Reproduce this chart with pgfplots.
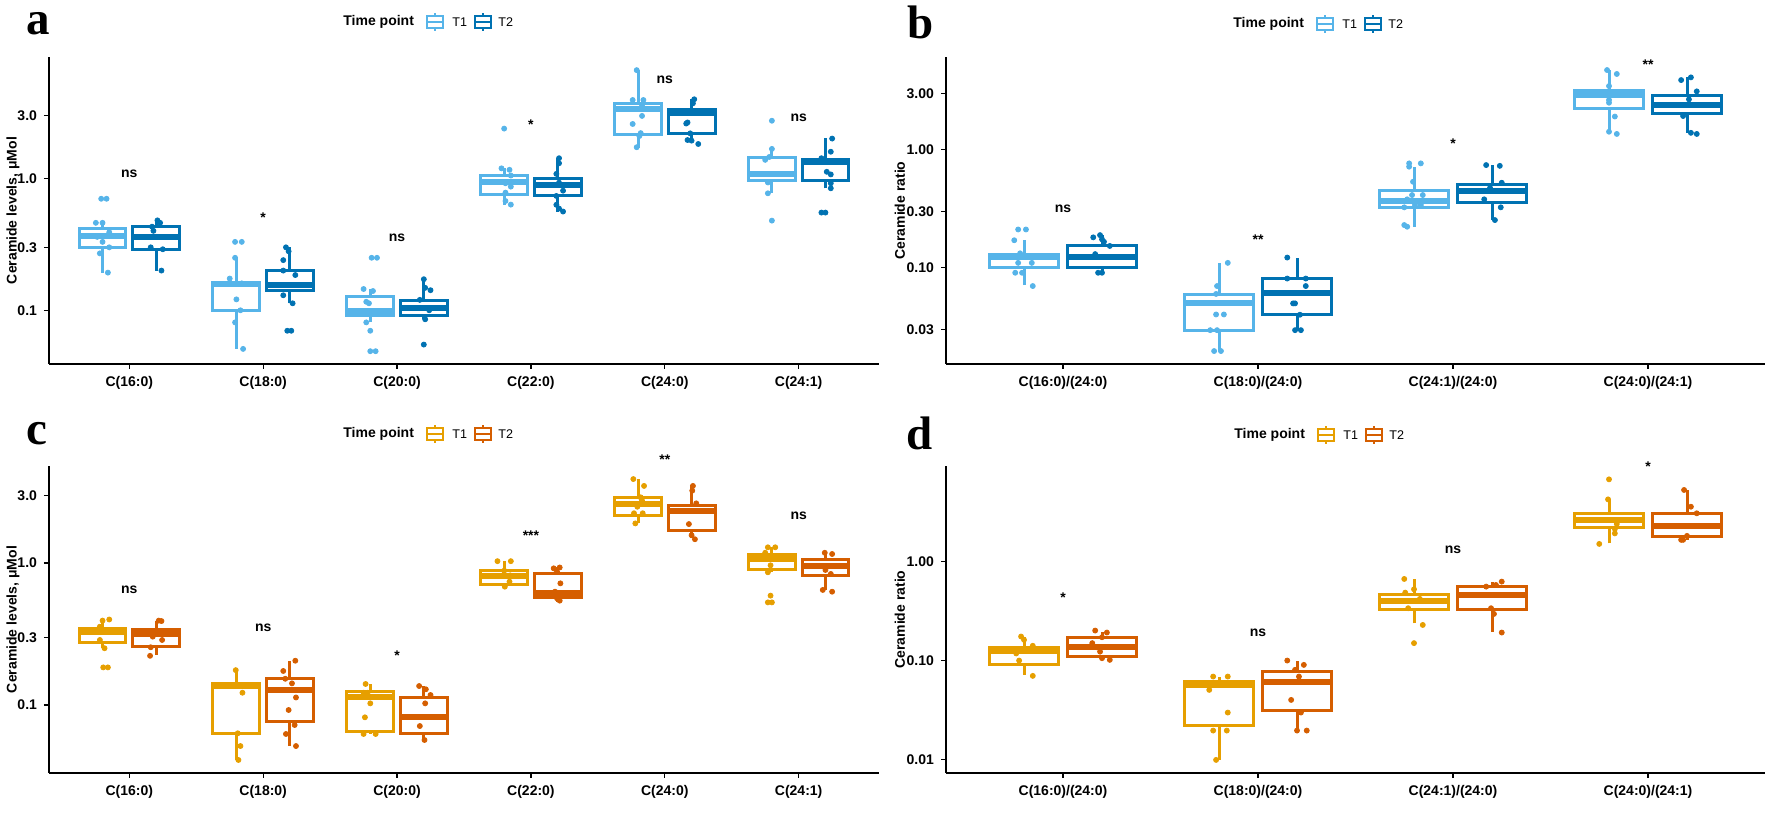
\documentclass[border=0pt]{standalone}
\usepackage{pgfplots}
\pgfplotsset{compat=1.18}
\usepackage{fontspec}
\setmainfont{Liberation Sans}
\newfontfamily\letterfont{Liberation Serif}
\definecolor{ta}{HTML}{56B4E9}
\definecolor{tb}{HTML}{0072B2}
\definecolor{tc}{HTML}{E69F00}
\definecolor{td}{HTML}{D55E00}
\newcommand{\myfs}{\fontsize{7}{8}\selectfont\bfseries}
% box: color, centre, lower whisker, lower quartile, median, upper quartile, upper whisker
\newcommand{\mybx}[7]{%
  \pgfmathsetmacro\bxL{#2-0.175}%
  \pgfmathsetmacro\bxR{#2+0.175}%
  \edef\bxdoit{%
    \noexpand\addplot[color=#1, line width=1.5pt] coordinates {(#2,#3) (#2,#4)};
    \noexpand\addplot[color=#1, line width=1.5pt] coordinates {(#2,#6) (#2,#7)};
    \noexpand\addplot[color=#1, line width=1.5pt, fill=white, line join=miter, line cap=rect] coordinates {(\bxL,#4) (\bxR,#4) (\bxR,#6) (\bxL,#6) (\bxL,#4)};
    \noexpand\addplot[color=#1, line width=3pt] coordinates {(\bxL,#5) (\bxR,#5)};
  }\bxdoit}
\newcommand{\mysig}[3]{\node[font=\myfs, inner sep=0pt] at (axis cs:#1,#2) {#3};}
\newcommand{\lglyph}[3]{%
  \draw[#3, line width=1.1pt, fill=white] (#1-4pt,#2-3pt) rectangle (#1+4pt,#2+3pt);
  \draw[#3, line width=1.1pt] (#1-4pt,#2) -- (#1+4pt,#2);
  \draw[#3, line width=1.1pt] (#1,#2+3pt) -- (#1,#2+4.3pt) (#1,#2-3pt) -- (#1,#2-4.3pt);}
\newcommand{\mylegend}[4]{% x of "Time point", y, color1, color2
  \node[font=\myfs, anchor=west, inner sep=0pt] at (#1,#2) {Time point};
  \lglyph{#1+46pt}{#2}{#3}
  \node[font=\fontsize{6.3}{7}\selectfont, anchor=west, inner sep=0pt] at (#1+54.5pt,#2) {T1};
  \lglyph{#1+70pt}{#2}{#4}
  \node[font=\fontsize{6.3}{7}\selectfont, anchor=west, inner sep=0pt] at (#1+77.5pt,#2) {T2};}
\pgfplotsset{
  panelstyle/.style={scale only axis, axis lines=left,
    axis line style={-, black, line width=0.6pt},
    tick align=outside, major tick length=2.5pt,
    tick style={black, line width=0.6pt},
    yminorticks=false, clip=false,
    tick label style={font=\myfs},
    label style={font=\myfs},
    height=153.5pt, xmin=0.4},
}
\begin{document}
\begin{tikzpicture}
\path[use as bounding box] (0,0) rectangle (886pt,409.5pt);
% ---------------- panel a
\begin{axis}[ymode=log, panelstyle, at={(24.5pt,227.5pt)}, anchor=south west, width=415pt,
  xmax=6.6, ymin=0.0392, ymax=8.3,
  xtick={1,2,3,4,5,6}, xticklabels={C(16:0),C(18:0),C(20:0),C(22:0),C(24:0),C(24:1)},
  ytick={0.1,0.3,1,3}, yticklabels={0.1,0.3,1.0,3.0},
  ylabel={Ceramide levels, μMol},
  ylabel style={at={(axis description cs:-0.0434,0.5)}, anchor=center}]
\mybx{ta}{0.8}{0.193}{0.30}{0.366}{0.42}{0.46}
\mybx{tb}{1.2}{0.20}{0.29}{0.36}{0.43}{0.48}
\mybx{ta}{1.8}{0.051}{0.099}{0.158}{0.162}{0.25}
\mybx{tb}{2.2}{0.113}{0.141}{0.155}{0.202}{0.30}
\mybx{ta}{2.8}{0.081}{0.0906}{0.098}{0.127}{0.145}
\mybx{tb}{3.2}{0.0855}{0.091}{0.105}{0.118}{0.172}
\mybx{ta}{3.8}{0.632}{0.76}{0.94}{1.05}{1.19}
\mybx{tb}{4.2}{0.56}{0.735}{0.89}{1.0}{1.42}
\mybx{ta}{4.8}{1.69}{2.15}{3.33}{3.66}{6.6}
\mybx{tb}{5.2}{1.9}{2.19}{3.1}{3.3}{3.97}
\mybx{ta}{5.8}{0.77}{0.97}{1.08}{1.43}{1.67}
\mybx{tb}{6.2}{0.84}{0.97}{1.32}{1.38}{2.01}
\addplot[only marks, mark=*, mark size=1.25pt, color=ta] coordinates {
(0.79,0.70) (0.83,0.70) (0.75,0.46) (0.80,0.46) (0.85,0.39) (0.76,0.36) (0.80,0.33) (0.85,0.30) (0.78,0.27) (0.84,0.193)
(1.79,0.33) (1.84,0.33) (1.79,0.25) (1.75,0.174) (1.84,0.16) (1.80,0.121) (1.83,0.10) (1.79,0.081) (1.85,0.051)
(2.81,0.25) (2.85,0.25) (2.75,0.145) (2.82,0.14) (2.77,0.116) (2.79,0.113) (2.77,0.081) (2.80,0.07) (2.80,0.049) (2.84,0.049)
(3.80,2.38) (3.78,1.19) (3.84,1.16) (3.85,1.05) (3.81,0.917) (3.85,0.865) (3.81,0.779) (3.81,0.673) (3.85,0.632)
(4.79,6.6) (4.76,3.92) (4.84,3.92) (4.83,3.53) (4.83,2.97) (4.76,2.58) (4.81,2.09) (4.82,2.2) (4.79,1.72)
(5.80,2.73) (5.80,1.67) (5.75,1.38) (5.78,1.45) (5.77,0.93) (5.77,0.77) (5.80,0.478)};
\addplot[only marks, mark=*, mark size=1.25pt, color=tb] coordinates {
(1.21,0.48) (1.23,0.46) (1.17,0.43) (1.18,0.40) (1.20,0.36) (1.16,0.30) (1.25,0.29) (1.24,0.20)
(2.17,0.30) (2.19,0.28) (2.15,0.24) (2.15,0.20) (2.24,0.185) (2.15,0.13) (2.22,0.113) (2.18,0.07) (2.21,0.07)
(3.20,0.172) (3.21,0.148) (3.25,0.142) (3.17,0.12) (3.24,0.10) (3.21,0.0855) (3.20,0.055)
(4.21,1.42) (4.21,1.30) (4.19,1.08) (4.21,0.927) (4.24,0.806) (4.19,0.735) (4.19,0.63) (4.21,0.59) (4.24,0.56)
(5.22,3.97) (5.21,3.7) (5.16,2.6) (5.17,2.65) (5.19,2.19) (5.17,1.95) (5.20,1.93) (5.25,1.82)
(6.25,2.0) (6.24,1.59) (6.17,1.42) (6.21,1.12) (6.24,1.07) (6.24,0.917) (6.24,0.84) (6.17,0.55) (6.20,0.55)};
\mysig{1}{1.09}{ns}\mysig{2}{0.507}{*}\mysig{3}{0.357}{ns}\mysig{4}{2.56}{*}\mysig{5}{5.62}{ns}\mysig{6}{2.85}{ns}
\end{axis}
% ---------------- panel b
\begin{axis}[ymode=log, panelstyle, at={(473pt,227.5pt)}, anchor=south west, width=409.5pt,
  xmax=4.6, ymin=0.0153, ymax=6.1,
  xtick={1,2,3,4}, xticklabels={C(16:0)/(24:0),C(18:0)/(24:0),C(24:1)/(24:0),C(24:0)/(24:1)},
  ytick={0.03,0.1,0.3,1,3}, yticklabels={0.03,0.10,0.30,1.00,3.00},
  ylabel={Ceramide ratio},
  ylabel style={at={(axis description cs:-0.0562,0.5)}, anchor=center}]
\mybx{ta}{0.8}{0.0713}{0.10}{0.124}{0.1305}{0.171}
\mybx{tb}{1.2}{0.0907}{0.10}{0.123}{0.153}{0.189}
\mybx{ta}{1.8}{0.0197}{0.0296}{0.0505}{0.0598}{0.109}
\mybx{tb}{2.2}{0.0296}{0.0402}{0.0606}{0.0807}{0.122}
\mybx{ta}{2.8}{0.2226}{0.325}{0.37}{0.455}{0.718}
\mybx{tb}{3.2}{0.2535}{0.358}{0.447}{0.512}{0.741}
\mybx{ta}{3.8}{1.42}{2.24}{2.90}{3.2}{4.73}
\mybx{tb}{4.2}{1.39}{2.03}{2.38}{2.89}{4.10}
\addplot[only marks, mark=*, mark size=1.25pt, color=ta] coordinates {
(0.77,0.211) (0.81,0.211) (0.75,0.171) (0.78,0.1325) (0.84,0.124) (0.77,0.110) (0.84,0.110) (0.755,0.0907) (0.79,0.0907) (0.845,0.070)
(1.845,0.11) (1.79,0.070) (1.785,0.06) (1.785,0.0402) (1.825,0.0402) (1.755,0.0296) (1.79,0.0296) (1.775,0.0197) (1.81,0.0197)
(2.775,0.766) (2.835,0.766) (2.775,0.718) (2.795,0.535) (2.79,0.413) (2.845,0.413) (2.765,0.38) (2.805,0.34) (2.75,0.325) (2.835,0.34) (2.75,0.23) (2.765,0.2226)
(3.79,4.73) (3.84,4.38) (3.80,3.46) (3.80,2.64) (3.80,2.5) (3.83,1.91) (3.80,1.42) (3.84,1.36)};
\addplot[only marks, mark=*, mark size=1.25pt, color=tb] coordinates {
(1.155,0.181) (1.19,0.189) (1.20,0.174) (1.21,0.166) (1.24,0.153) (1.165,0.1305) (1.18,0.0907) (1.20,0.0907)
(2.15,0.122) (2.15,0.081) (2.245,0.081) (2.245,0.070) (2.18,0.0499) (2.19,0.0499) (2.215,0.040) (2.19,0.0296) (2.22,0.0296)
(3.17,0.741) (3.24,0.73) (3.25,0.525) (3.19,0.475) (3.16,0.38) (3.245,0.325) (3.215,0.2535)
(4.17,3.89) (4.22,4.10) (4.25,3.12) (4.21,2.67) (4.18,1.93) (4.22,1.39) (4.25,1.36)};
\mysig{1}{0.314}{ns}\mysig{2}{0.174}{**}\mysig{3}{1.13}{*}\mysig{4}{5.22}{**}
\end{axis}
% ---------------- panel c
\begin{axis}[ymode=log, panelstyle, at={(24.5pt,23pt)}, anchor=south west, width=415pt,
  xmax=6.6, ymin=0.0332, ymax=4.82,
  xtick={1,2,3,4,5,6}, xticklabels={C(16:0),C(18:0),C(20:0),C(22:0),C(24:0),C(24:1)},
  ytick={0.1,0.3,1,3}, yticklabels={0.1,0.3,1.0,3.0},
  ylabel={Ceramide levels, μMol},
  ylabel style={at={(axis description cs:-0.0434,0.5)}, anchor=center}]
\mybx{tc}{0.8}{0.251}{0.276}{0.328}{0.347}{0.397}
\mybx{td}{1.2}{0.225}{0.257}{0.316}{0.341}{0.393}
\mybx{tc}{1.8}{0.041}{0.0632}{0.136}{0.142}{0.176}
\mybx{td}{2.2}{0.0514}{0.0763}{0.1275}{0.153}{0.205}
\mybx{tc}{2.8}{0.0625}{0.0656}{0.113}{0.1235}{0.1406}
\mybx{td}{3.2}{0.0567}{0.0632}{0.0828}{0.113}{0.136}
\mybx{tc}{3.8}{0.681}{0.70}{0.814}{0.883}{1.03}
\mybx{td}{4.2}{0.534}{0.57}{0.618}{0.837}{0.942}
\mybx{tc}{4.8}{1.90}{2.17}{2.59}{2.88}{3.90}
\mybx{td}{5.2}{1.49}{1.69}{2.32}{2.56}{3.54}
\mybx{tc}{5.8}{0.869}{0.893}{1.067}{1.14}{1.29}
\mybx{td}{6.2}{0.646}{0.814}{0.952}{1.05}{1.20}
\addplot[only marks, mark=*, mark size=1.25pt, color=tc] coordinates {
(0.85,0.40) (0.80,0.393) (0.78,0.356) (0.85,0.328) (0.78,0.287) (0.815,0.251) (0.805,0.184) (0.84,0.184)
(1.795,0.176) (1.80,0.14) (1.845,0.122) (1.81,0.0632) (1.83,0.0514) (1.815,0.041)
(2.765,0.1406) (2.75,0.122) (2.78,0.122) (2.80,0.1027) (2.76,0.0819) (2.75,0.0625) (2.84,0.0625)
(3.75,1.03) (3.85,1.03) (3.80,0.883) (3.845,0.818) (3.84,0.739) (3.805,0.681)
(4.765,3.90) (4.845,3.49) (4.82,2.90) (4.83,2.75) (4.795,2.49) (4.77,2.24) (4.835,2.24) (4.78,1.90)
(5.77,1.29) (5.825,1.29) (5.75,1.18) (5.79,0.963) (5.77,0.86) (5.79,0.589) (5.77,0.528) (5.80,0.528)};
\addplot[only marks, mark=*, mark size=1.25pt, color=td] coordinates {
(1.22,0.393) (1.24,0.39) (1.19,0.316) (1.175,0.303) (1.245,0.287) (1.16,0.255) (1.155,0.222)
(2.24,0.205) (2.15,0.1736) (2.165,0.153) (2.215,0.142) (2.245,0.113) (2.19,0.0922) (2.235,0.0723) (2.17,0.0625) (2.245,0.0514)
(3.165,0.136) (3.215,0.129) (3.25,0.1176) (3.21,0.1027) (3.17,0.0711) (3.205,0.0567)
(4.17,0.917) (4.215,0.93) (4.195,0.869) (4.22,0.719) (4.18,0.628) (4.195,0.564) (4.215,0.543)
(5.21,3.49) (5.205,3.23) (5.235,2.63) (5.18,1.88) (5.20,1.57) (5.225,1.47)
(6.195,1.18) (6.25,1.157) (6.15,0.952) (6.20,0.893) (6.24,0.837) (6.18,0.646) (6.25,0.628)};
\mysig{1}{0.645}{ns}\mysig{2}{0.352}{ns}\mysig{3}{0.221}{*}\mysig{4}{1.566}{***}\mysig{5}{5.37}{**}\mysig{6}{2.14}{ns}
\end{axis}
% ---------------- panel d
\begin{axis}[ymode=log, panelstyle, at={(473pt,23pt)}, anchor=south west, width=409.5pt,
  xmax=4.6, ymin=0.0073, ymax=9.26,
  xtick={1,2,3,4}, xticklabels={C(16:0)/(24:0),C(18:0)/(24:0),C(24:1)/(24:0),C(24:0)/(24:1)},
  ytick={0.01,0.1,1}, yticklabels={0.01,0.10,1.00},
  ylabel={Ceramide ratio},
  ylabel style={at={(axis description cs:-0.0562,0.5)}, anchor=center}]
\mybx{tc}{0.8}{0.0717}{0.0918}{0.126}{0.136}{0.175}
\mybx{td}{1.2}{0.1016}{0.110}{0.136}{0.172}{0.196}
\mybx{tc}{1.8}{0.0099}{0.0222}{0.0568}{0.0614}{0.0689}
\mybx{td}{2.2}{0.0196}{0.031}{0.0604}{0.0774}{0.10}
\mybx{tc}{2.8}{0.238}{0.33}{0.404}{0.468}{0.663}
\mybx{td}{3.2}{0.196}{0.325}{0.461}{0.559}{0.628}
\mybx{tc}{3.8}{1.53}{2.22}{2.63}{3.08}{4.26}
\mybx{td}{4.2}{1.655}{1.79}{2.31}{3.08}{5.30}
\addplot[only marks, mark=*, mark size=1.25pt, color=tc] coordinates {
(0.785,0.175) (0.80,0.162) (0.845,0.141) (0.76,0.118) (0.775,0.10) (0.845,0.070)
(1.77,0.0689) (1.845,0.0689) (1.75,0.0505) (1.845,0.0298) (1.77,0.0196) (1.84,0.0196) (1.785,0.0099)
(2.75,0.668) (2.80,0.525) (2.755,0.486) (2.83,0.42) (2.77,0.338) (2.845,0.229) (2.80,0.150)
(3.80,6.79) (3.795,4.26) (3.84,2.40) (3.83,2.14) (3.83,1.93) (3.75,1.51)};
\addplot[only marks, mark=*, mark size=1.25pt, color=td] coordinates {
(1.165,0.201) (1.225,0.192) (1.20,0.172) (1.15,0.150) (1.175,0.136) (1.19,0.123) (1.20,0.1056) (1.24,0.1016)
(2.15,0.10) (2.235,0.0904) (2.19,0.0805) (2.21,0.0689) (2.17,0.040) (2.22,0.0298) (2.20,0.0196) (2.25,0.0196)
(3.17,0.559) (3.22,0.581) (3.25,0.628) (3.195,0.338) (3.21,0.296) (3.25,0.192)
(4.185,5.30) (4.22,3.59) (4.25,3.08) (4.20,1.82) (4.17,1.66) (4.18,1.66)};
\mysig{1}{0.433}{*}\mysig{2}{0.193}{ns}\mysig{3}{1.33}{ns}\mysig{4}{9.11}{*}
\end{axis}
% ---------------- legends and panel letters
\mylegend{171.5pt}{398.5pt}{ta}{tb}
\mylegend{616.5pt}{397.5pt}{ta}{tb}
\mylegend{171.5pt}{192.5pt}{tc}{td}
\mylegend{617pt}{192pt}{tc}{td}
\node[font=\letterfont\bfseries\fontsize{23.5}{25}\selectfont, anchor=base west, inner sep=0pt] at (13pt,392pt) {a};
\node[font=\letterfont\bfseries\fontsize{23.5}{25}\selectfont, anchor=base west, inner sep=0pt] at (453.5pt,390pt) {b};
\node[font=\letterfont\bfseries\fontsize{23.5}{25}\selectfont, anchor=base west, inner sep=0pt] at (13pt,187pt) {c};
\node[font=\letterfont\bfseries\fontsize{23.5}{25}\selectfont, anchor=base west, inner sep=0pt] at (453pt,184.5pt) {d};
\end{tikzpicture}
\end{document}
